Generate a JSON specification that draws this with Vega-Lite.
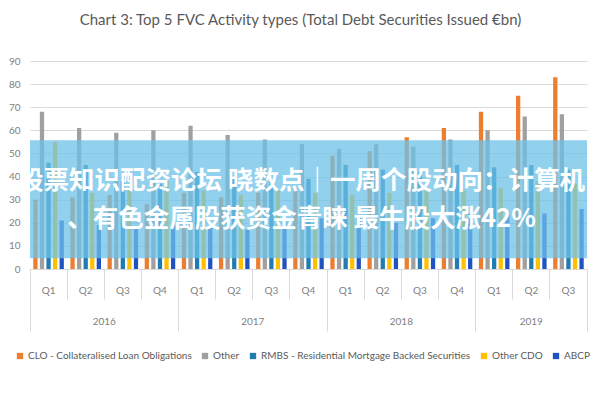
{
  "$schema": "https://vega.github.io/schema/vega-lite/v6.json",
  "width": 557,
  "height": 208,
  "autosize": {"type": "none"},
  "padding": {"left": 30, "top": 61, "right": 13, "bottom": 131},
  "background": "white",
  "title": {
    "text": "Chart 3: Top 5 FVC Activity types (Total Debt Securities Issued €bn)",
    "font": "Lato",
    "fontSize": 15,
    "fontWeight": "normal",
    "color": "#595959",
    "anchor": "middle",
    "offset": 28,
    "dx": -8
  },
  "config": {
    "view": {"stroke": null},
    "axisY": {
      "title": null,
      "tickCount": 10,
      "labelOverlap": false,
      "domain": false,
      "ticks": false,
      "grid": true,
      "gridColor": "#d9d9d9",
      "labelPadding": 10,
      "labelFont": "Lato",
      "labelFontSize": 10,
      "labelColor": "#808080"
    }
  },
  "data": {
    "values": [
      {"period": "2016 Q1", "CLO": 30, "Other": 68, "RMBS": 46, "OtherCDO": 55, "ABCP": 21},
      {"period": "2016 Q2", "CLO": 31, "Other": 61, "RMBS": 45, "OtherCDO": 33, "ABCP": 19},
      {"period": "2016 Q3", "CLO": 32, "Other": 59, "RMBS": 38, "OtherCDO": 35, "ABCP": 18},
      {"period": "2016 Q4", "CLO": 28, "Other": 60, "RMBS": 37, "OtherCDO": 38, "ABCP": 19},
      {"period": "2017 Q1", "CLO": 33, "Other": 62, "RMBS": 42, "OtherCDO": 34, "ABCP": 18},
      {"period": "2017 Q2", "CLO": 31, "Other": 58, "RMBS": 40, "OtherCDO": 32, "ABCP": 17},
      {"period": "2017 Q3", "CLO": 33, "Other": 56, "RMBS": 38, "OtherCDO": 34, "ABCP": 21},
      {"period": "2017 Q4", "CLO": 35, "Other": 54, "RMBS": 39, "OtherCDO": 33, "ABCP": 22},
      {"period": "2018 Q1", "CLO": 49, "Other": 52, "RMBS": 45, "OtherCDO": 32, "ABCP": 22},
      {"period": "2018 Q2", "CLO": 51, "Other": 54, "RMBS": 43, "OtherCDO": 33, "ABCP": 20},
      {"period": "2018 Q3", "CLO": 57, "Other": 53, "RMBS": 42, "OtherCDO": 35, "ABCP": 22},
      {"period": "2018 Q4", "CLO": 61, "Other": 56, "RMBS": 45, "OtherCDO": 34, "ABCP": 24},
      {"period": "2019 Q1", "CLO": 68, "Other": 60, "RMBS": 44, "OtherCDO": 35, "ABCP": 25},
      {"period": "2019 Q2", "CLO": 75, "Other": 66, "RMBS": 45, "OtherCDO": 38, "ABCP": 24},
      {"period": "2019 Q3", "CLO": 83, "Other": 67, "RMBS": 43, "OtherCDO": 37, "ABCP": 26}
    ]
  },
  "transform": [
    {"fold": ["CLO", "Other", "RMBS", "OtherCDO", "ABCP"], "as": ["series", "value"]}
  ],
  "resolve": {"axis": {"x": "independent"}},
  "layer": [
    {
      "mark": {"type": "bar"},
      "encoding": {
        "x": {
          "field": "period",
          "type": "nominal",
          "sort": null,
          "scale": {"paddingInner": 0, "paddingOuter": 0},
          "axis": {
            "orient": "bottom",
            "title": null,
            "bandPosition": 0,
            "domain": false,
            "grid": false,
            "ticks": true,
            "tickColor": "#d9d9d9",
            "tickWidth": 1,
            "tickSize": {"condition": {"test": "indexof(datum.value,'Q1')>=0", "value": 62}, "value": 30},
            "labelPadding": {"condition": {"test": "indexof(datum.value,'Q1')>=0", "value": -46}, "value": -14},
            "labelExpr": "split(datum.value,' ')[1]",
            "labelAngle": 0,
            "labelOverlap": false,
            "labelFont": "Lato",
            "labelFontSize": 10,
            "labelColor": "#808080"
          }
        },
        "xOffset": {
          "field": "series",
          "type": "nominal",
          "sort": ["CLO", "Other", "RMBS", "OtherCDO", "ABCP"],
          "scale": {"paddingInner": 0.35, "paddingOuter": 0.5}
        },
        "y": {
          "field": "value",
          "type": "quantitative",
          "title": null,
          "scale": {"domain": [0, 90]}
        },
        "color": {
          "field": "series",
          "type": "nominal",
          "scale": {
            "domain": ["CLO", "Other", "RMBS", "OtherCDO", "ABCP"],
            "range": ["#ED7D31", "#A0A0A0", "#1F7BB0", "#FFC000", "#2152C2"]
          },
          "legend": {
            "title": null,
            "orient": "none",
            "direction": "horizontal",
            "legendX": -15,
            "legendY": 290,
            "symbolType": "square",
            "symbolSize": 40,
            "symbolStrokeWidth": 0,
            "labelFont": "Lato",
            "labelFontSize": 10,
            "labelColor": "#595959",
            "labelLimit": 0,
            "columnPadding": 8,
            "labelOffset": 3,
            "labelExpr": "datum.label == 'CLO' ? 'CLO - Collateralised Loan Obligations' : datum.label == 'RMBS' ? 'RMBS - Residential Mortgage Backed Securities' : datum.label == 'OtherCDO' ? 'Other CDO' : datum.label"
          }
        }
      }
    },
    {
      "mark": {"type": "point", "opacity": 0},
      "encoding": {
        "x": {
          "field": "period",
          "type": "nominal",
          "sort": null,
          "axis": {
            "orient": "bottom",
            "title": null,
            "bandPosition": 1,
            "domain": false,
            "grid": false,
            "ticks": true,
            "tickColor": "#d9d9d9",
            "tickWidth": 1,
            "tickSize": {"condition": {"test": "datum.value == '2019 Q3'", "value": 62}, "value": 0},
            "labelPadding": {"condition": {"test": "datum.value == '2019 Q3'", "value": -15}, "value": 47},
            "labelOffset": {"condition": {"test": "datum.value == '2019 Q2'", "value": 0}, "value": 18.57},
            "labelExpr": "indexof(datum.value,'Q2')>=0 ? slice(datum.value,0,4) : ''",
            "labelAngle": 0,
            "labelOverlap": false,
            "labelFont": "Lato",
            "labelFontSize": 10,
            "labelColor": "#808080"
          }
        }
      }
    },
    {
      "data": {"values": [{}]},
      "mark": {"type": "rect", "color": "#6EC1E8", "opacity": 0.75},
      "encoding": {
        "y": {"datum": 55.7, "type": "quantitative", "title": null, "scale": {"domain": [0, 90]}},
        "y2": {"datum": 4.7}
      }
    },
    {
      "data": {"values": [{}]},
      "mark": {
        "type": "text",
        "text": "股票知识配资论坛 晓数点｜一周个股动向：计算机",
        "font": "Noto Sans CJK SC",
        "fontSize": 25.5,
        "fontWeight": "bold",
        "color": "white",
        "dx": -7
      },
      "encoding": {
        "y": {"datum": 38.1, "type": "quantitative", "title": null, "scale": {"domain": [0, 90]}}
      }
    },
    {
      "data": {"values": [{}]},
      "mark": {
        "type": "text",
        "text": "、有色金属股获资金青睐 最牛股大涨42%",
        "font": "Noto Sans CJK SC",
        "fontSize": 25.5,
        "fontWeight": "bold",
        "color": "white",
        "dx": -7
      },
      "encoding": {
        "y": {"datum": 21.6, "type": "quantitative", "title": null, "scale": {"domain": [0, 90]}}
      }
    }
  ]
}
